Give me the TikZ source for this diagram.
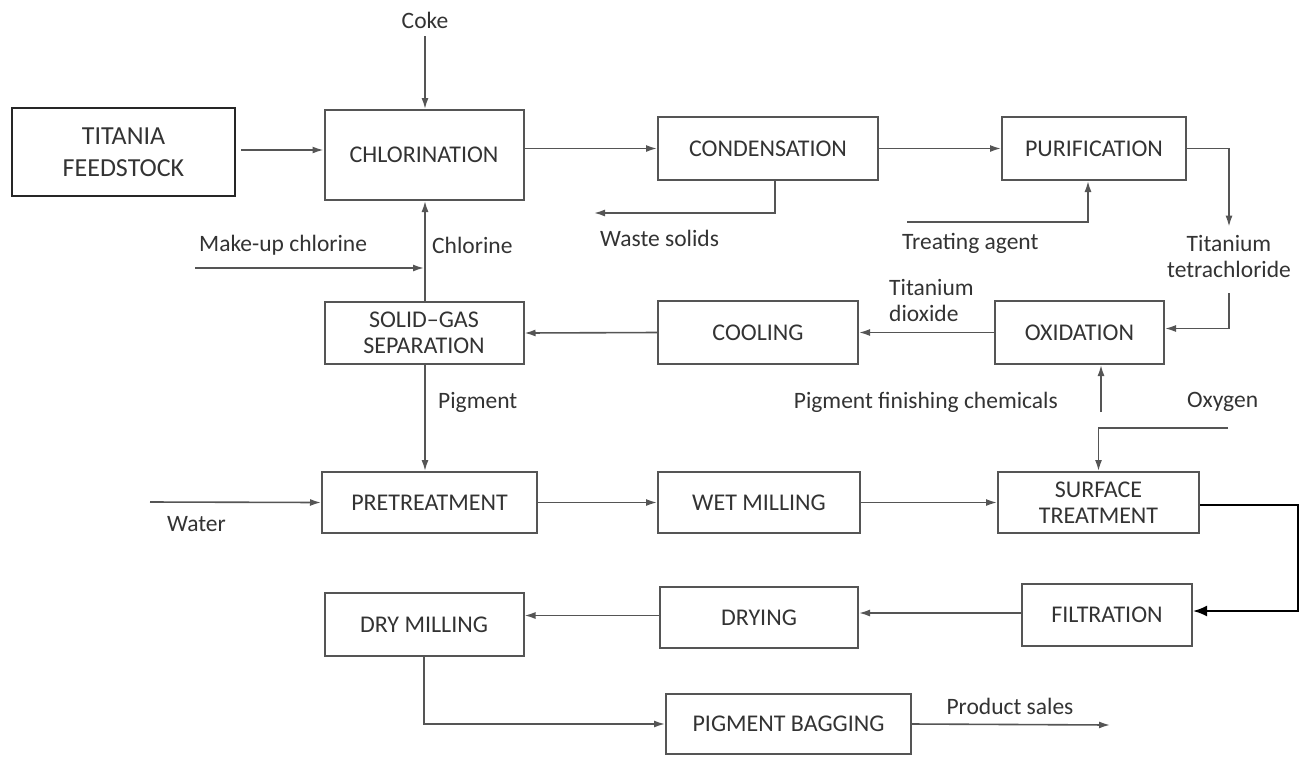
\documentclass[tikz,border=0pt]{standalone}
\usepackage{fontspec}
\setmainfont{Carlito}
\usetikzlibrary{arrows.meta}
\definecolor{ink}{HTML}{333333}
\definecolor{edge}{HTML}{555555}
\begin{document}
\begin{tikzpicture}[x=1pt,y=-1pt,
  box/.style={draw=edge,line width=2pt,inner sep=0pt,text=ink,align=center,
    font=\fontsize{24}{26}\selectfont},
  lbl/.style={text=ink,inner sep=0pt,font=\fontsize{23.5}{26}\selectfont},
  arr/.style={draw=edge,line width=1.6pt,-{Latex[length=11pt,width=7pt]}},
  ln/.style={draw=edge,line width=1.6pt}]
\useasboundingbox (0,0) rectangle (1301,756);

% process units
\node[box,draw=black!85,line width=2.6pt,minimum width=223,minimum height=88,
  font=\fontsize{26}{32}\selectfont] (feed) at (123.5,152) {TITANIA\\FEEDSTOCK};
\node[box,minimum width=199,minimum height=90] (chlor) at (424,155) {CHLORINATION};
\node[box,minimum width=220,minimum height=63] (cond) at (768,148.5) {CONDENSATION};
\node[box,minimum width=184,minimum height=63] (puri) at (1094,148.5) {PURIFICATION};
\node[box,minimum width=169,minimum height=63] (oxid) at (1079.5,332.5) {OXIDATION};
\node[box,minimum width=200,minimum height=63] (cool) at (758,332.5) {COOLING};
\node[box,minimum width=199,minimum height=62] (sep) at (424,333) {SOLID--GAS\\SEPARATION};
\node[box,minimum width=215,minimum height=61] (pre) at (429.5,502.5) {PRETREATMENT};
\node[box,minimum width=202,minimum height=61] (wet) at (759,502.5) {WET MILLING};
\node[box,minimum width=201,minimum height=61] (surf) at (1098.5,502.5) {SURFACE\\TREATMENT};
\node[box,minimum width=170,minimum height=62] (filt) at (1107,615) {FILTRATION};
\node[box,minimum width=198,minimum height=61] (dry) at (759,617.5) {DRYING};
\node[box,minimum width=199,minimum height=63] (drym) at (424,624.5) {DRY MILLING};
\node[box,minimum width=245,minimum height=60] (bag) at (788.5,724) {PIGMENT BAGGING};

% stream labels
\node[lbl] (coke) at (425,20) {Coke};
\node[lbl,anchor=west] (lchl) at (432,245) {Chlorine};
\node[lbl,anchor=west] (lmk) at (199,245) {Make-up chlorine};
\node[lbl,anchor=west] (lws) at (600,238) {Waste solids};
\node[lbl,anchor=west] (lta) at (902,243) {Treating agent};
\node[lbl,align=center,font=\fontsize{23.5}{26}\selectfont] (tt) at (1229,256) {Titanium\\tetrachloride};
\node[lbl,anchor=west,align=left,font=\fontsize{23.5}{26}\selectfont] (ltd) at (889,300) {Titanium\\dioxide};
\node[lbl,anchor=west] (lpg) at (438,402) {Pigment};
\node[lbl,anchor=east] (lpf) at (1058,402) {Pigment finishing chemicals};
\node[lbl,anchor=west] (lox) at (1187,402) {Oxygen};
\node[lbl,anchor=west] (lwa) at (167,524) {Water};
\node[lbl] (lps) at (1010,706) {Product sales};

% free ends of feed and product lines
\coordinate (mk) at (195,268);
\coordinate (ws) at (594,213);
\coordinate (ta) at (907,222);
\coordinate (wa) at (150,502);
\coordinate (pf) at (1101,412);
\coordinate (ox) at (1228,428);
\coordinate (ps) at (1110,725);

% main flow
\draw[arr] ([yshift=-8]coke.south) -- (coke.south |- chlor.north);
\draw[arr] ([xshift=5]feed.east |- 0,150) -- (chlor.west |- 0,150);
\draw[arr] (chlor.east |- cond.west) -- (cond.west);
\draw[arr] (cond.east) -- (puri.west);
\draw[arr] (puri.east) -| ([yshift=8]tt.north);
\draw[arr] ([yshift=-16]tt.south) |- ([yshift=4]oxid.east);
\draw[arr] (oxid.west) -- (cool.east);
\draw[arr] (cool.west) -- (sep.east);
\draw[arr] ([xshift=1]sep.north) -- ([xshift=1]chlor.south);
\draw[arr] (mk) -- (mk -| chlor.south);
\draw[arr] ([xshift=7]cond.south) |- (ws);
\draw[arr] (ta) -| ([xshift=-6]puri.south);
\draw[arr] ([xshift=1]sep.south) -- ([xshift=1]sep.south |- pre.north);
\draw[arr] (wa) -- (pre.west);
\draw[arr] (pre.east) -- (wet.west);
\draw[arr] (wet.east) -- (surf.west);
\draw[arr] (pf) -- (pf |- oxid.south);
\draw[arr] (ox) -| (surf.north);
\draw[line width=2pt,draw=black,-{Latex[length=14pt,width=11pt]}]
  ([yshift=-2]surf.east) -- ++(98,0) |- ([yshift=4]filt.east);
\draw[arr] ([yshift=2]filt.west) -- ([yshift=2]filt.west -| dry.east);
\draw[arr] ([yshift=2]dry.west) -- ([yshift=2]dry.west -| drym.east);
\draw[arr] (drym.south) |- (bag.west);
\draw[arr] (bag.east) -- (ps);
\end{tikzpicture}
\end{document}
